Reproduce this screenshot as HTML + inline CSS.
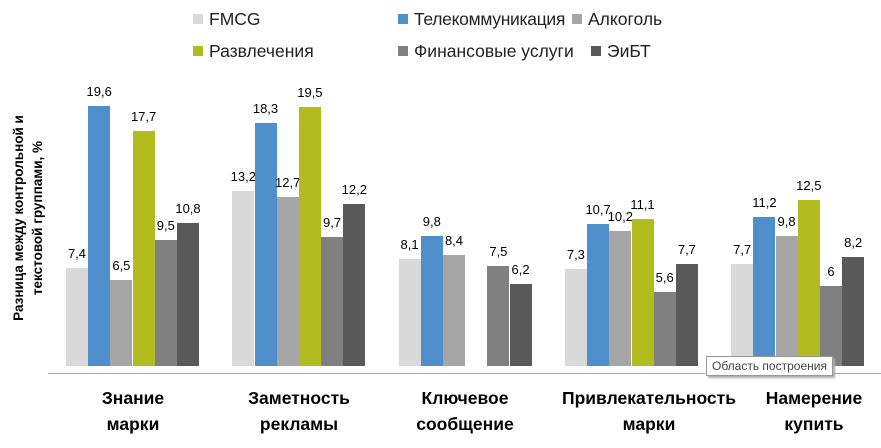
<!DOCTYPE html><html><head><meta charset="utf-8"><style>
body{margin:0;width:881px;height:448px;background:#fff;font-family:"Liberation Sans",sans-serif;position:relative;overflow:hidden}
.b{position:absolute;width:22px}
.v{position:absolute;width:40px;text-align:center;font-size:13px;color:#000}
.lg{position:absolute;font-size:17.5px;color:#222}
.lg i{display:inline-block;width:10px;height:10px;margin-right:6px;vertical-align:1px}
.c{position:absolute;width:200px;text-align:center;font-weight:bold;font-size:17.5px;line-height:26px;top:385px}
</style></head><body>
<div class="lg" style="left:193px;top:9px"><i style="background:#d9d9d9"></i>FMCG</div>
<div class="lg" style="left:398px;top:9px;letter-spacing:-0.3px"><i style="background:#4f8fcc"></i>Телекоммуникация</div>
<div class="lg" style="left:572px;top:9px"><i style="background:#a6a6a6"></i>Алкоголь</div>
<div class="lg" style="left:193px;top:41px"><i style="background:#b3bc1f"></i>Развлечения</div>
<div class="lg" style="left:398px;top:41px"><i style="background:#808080"></i>Финансовые услуги</div>
<div class="lg" style="left:591px;top:41px"><i style="background:#595959"></i>ЭиБТ</div>
<div style="position:absolute;left:28px;top:218px;width:0;height:0"><div style="position:absolute;transform:translate(-50%,-50%) rotate(-90deg);white-space:nowrap;text-align:center;font-weight:bold;font-size:13.5px;line-height:19px">Разница между контрольной и<br>текстовой группами, %</div></div>
<div style="position:absolute;left:48px;top:373px;width:833px;height:1px;background:#aaa"></div>
<div id="bars"></div>
<div class="c" style="left:33px">Знание<br>марки</div>
<div class="c" style="left:199px">Заметность<br>рекламы</div>
<div class="c" style="left:365px">Ключевое<br>сообщение</div>
<div class="c" style="left:549px">Привлекательность<br>марки</div>
<div class="c" style="left:714px">Намерение<br>купить</div>
<div style="position:absolute;left:706px;top:356px;padding:2px 5px;background:#fff;border:1px solid #999;font-size:12px;color:#444;box-shadow:2px 2px 2px #aaa">Область построения</div>
<script>
var cols=["#d9d9d9","#4f8fcc","#a6a6a6","#b3bc1f","#808080","#595959"];
var d=[[7.4,19.6,6.5,17.7,9.5,10.8],[13.2,18.3,12.7,19.5,9.7,12.2],[8.1,9.8,8.4,null,7.5,6.2],[7.3,10.7,10.2,11.1,5.6,7.7],[7.7,11.2,9.8,12.5,6,8.2]];
var h="";
d.forEach(function(g,gi){g.forEach(function(v,i){if(v==null)return;var x=66+gi*166.3+i*22.2,ht=v*13.27,t=366-ht;
h+='<div class="b" style="left:'+x+'px;top:'+t+'px;height:'+ht+'px;background:'+cols[i]+'"></div>';
h+='<div class="v" style="left:'+(x-9)+'px;top:'+(t-22)+'px">'+String(v).replace(".",",")+'</div>';});});
document.getElementById("bars").innerHTML=h;
</script>
</body></html>
